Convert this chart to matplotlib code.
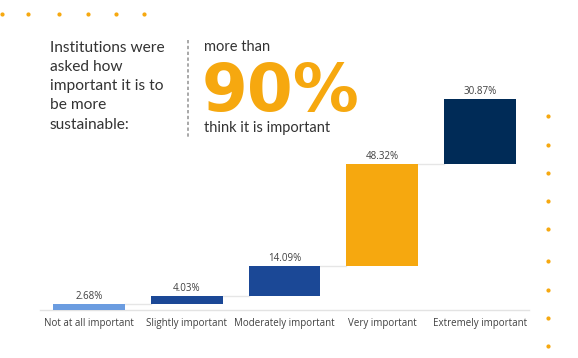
import numpy as np
import matplotlib.pyplot as plt

# waterfall data
categories = ["Not at all important", "Slightly important", "Moderately important",
              "Very important", "Extremely important"]
values = [2.68, 4.03, 14.09, 48.32, 30.87]
bar_colors = ["#6b9ce0", "#1b4896", "#1b4896", "#f6a80f", "#002b57"]

# decorative dots (pixel positions)
top_dots_x = [2, 28, 59, 88, 116, 144]
right_dots_y = [116, 145, 173, 201, 229, 261, 290, 318, 346]

W, H = 578, 358
fig = plt.figure(figsize=(W / 100, H / 100), dpi=100)
fig.patch.set_facecolor("white")

# chart axes
ax = fig.add_axes([40 / W, (H - 310) / H, 489 / W, 211 / H])
vals = np.array(values)
tops = np.cumsum(vals)
bottoms = tops - vals
x = np.arange(len(vals))
width = 0.735
ax.bar(x, vals, bottom=bottoms, width=width, color=bar_colors, zorder=3)

# connectors
for i in range(len(vals) - 1):
    ax.plot([x[i] + width / 2, x[i + 1] - width / 2], [tops[i], tops[i]],
            color="#e6e6e6", lw=1, zorder=2)

for xi, t, v in zip(x, tops, vals):
    ax.text(xi, t + 1.0, "{:.2f}%".format(v), ha="center", va="bottom",
            fontsize=7, color="#404040", family="Open Sans")

ax.set_xlim(-0.5, 4.5)
ax.set_ylim(0, 100)
ax.set_yticks([])
ax.set_xticks(x)
ax.set_xticklabels(categories, fontsize=7, color="#404040", family="Open Sans")
ax.tick_params(axis="x", length=0, pad=6)
for s in ["top", "right", "left"]:
    ax.spines[s].set_visible(False)
ax.spines["bottom"].set_color("#e3e3e3")
ax.spines["bottom"].set_linewidth(1)
ax.patch.set_alpha(0)

# headline texts
def fx(px):
    return px / W

def fy(py):
    return 1 - py / H

title_lines = ["Institutions were", "asked how", "important it is to",
               "be more", "sustainable:"]
for i, line in enumerate(title_lines):
    fig.text(fx(50), fy(47.5 + i * 19.3), line, ha="left", va="center",
             fontsize=11.2, color="#333333", family="Lato")
fig.add_artist(plt.Line2D([fx(188), fx(188)], [fy(40), fy(137)], color="#999999",
                          lw=1.2, ls=(0, (2, 1.5))))
fig.text(fx(204), fy(47), "more than", ha="left", va="center", fontsize=10.5,
         color="#333333", family="Lato")
fig.text(fx(202), fy(111), "90%", ha="left", va="baseline", fontsize=47.5,
         color="#f6a80f", family="DejaVu Sans", fontweight="bold")
fig.text(fx(204), fy(128), "think it is important", ha="left", va="center",
         fontsize=10.5, color="#333333", family="Lato")

# dots
fig.add_artist(plt.Line2D([fx(v) for v in top_dots_x], [fy(14)] * len(top_dots_x),
                          ls="none", marker="o", ms=2, color="#f6a80f"))
fig.add_artist(plt.Line2D([fx(548)] * len(right_dots_y), [fy(v) for v in right_dots_y],
                          ls="none", marker="o", ms=2, color="#f6a80f"))

fig.savefig("out.png", dpi=100)
